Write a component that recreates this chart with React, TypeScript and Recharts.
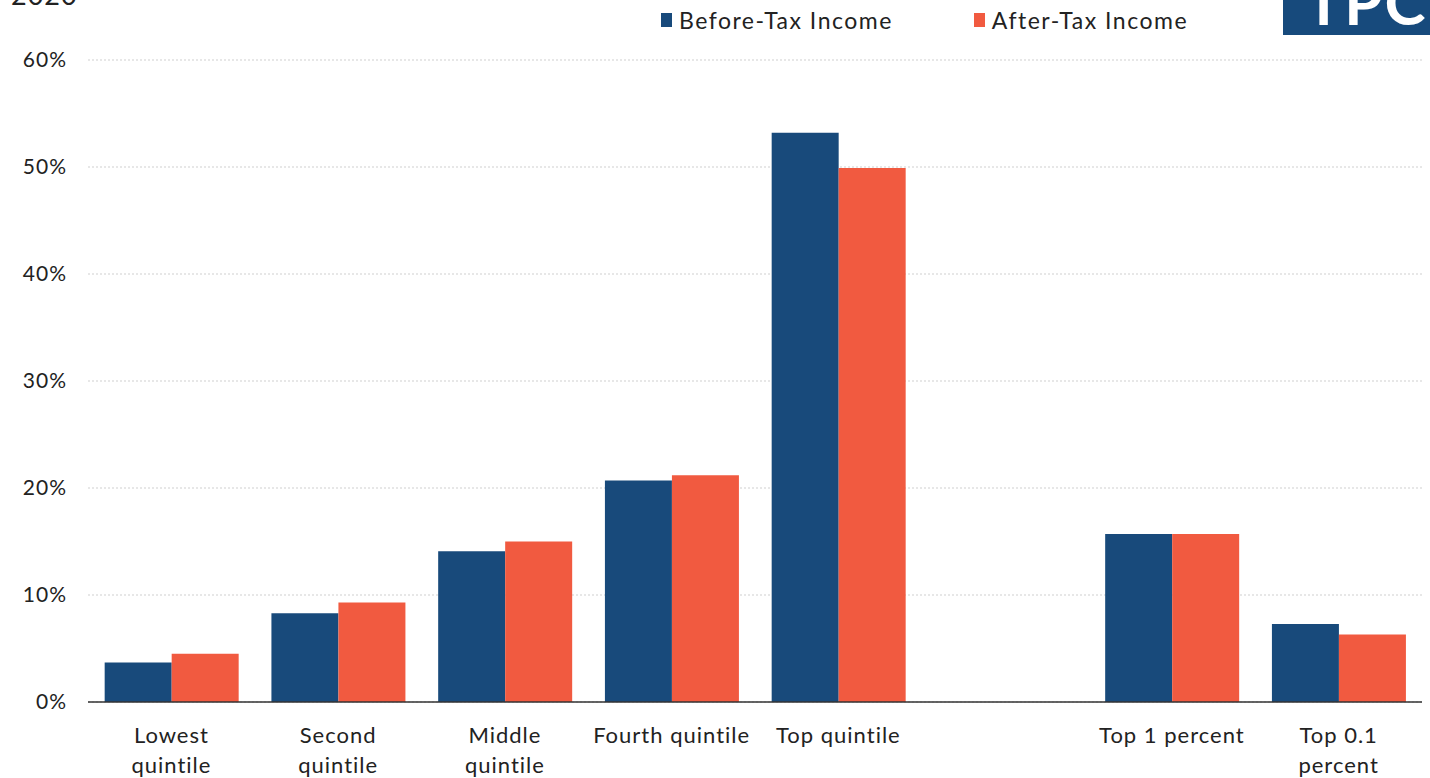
import React from "react";
import { BarChart, Bar, XAxis, YAxis, CartesianGrid } from "recharts";

const categories = [
  "Lowest\nquintile",
  "Second\nquintile",
  "Middle\nquintile",
  "Fourth quintile",
  "Top quintile",
  "",
  "Top 1 percent",
  "Top 0.1\npercent",
];
const beforeTax = [3.7, 8.3, 14.1, 20.7, 53.2, null, 15.7, 7.3];
const afterTax = [4.5, 9.3, 15.0, 21.2, 49.9, null, 15.7, 6.3];
const yTicks = [0, 10, 20, 30, 40, 50, 60];
const seriesNames = ["Before-Tax Income", "After-Tax Income"];

const COLORS = { before: "#184a7b", after: "#f15a40", text: "#222" };
const FONT = "Lato, 'Open Sans', sans-serif";

const data = categories.map((name, i) => ({ name, before: beforeTax[i], after: afterTax[i] }));

const XTick = (props: any) => {
  const { x, y, payload } = props;
  const lines = String(payload.value).split("\n");
  return (
    <text x={x} y={y + 41} textAnchor="middle" fill={COLORS.text} fontSize={22} fontFamily={FONT} letterSpacing={1}>
      {lines.map((l, i) => (
        <tspan key={i} x={x} dy={i === 0 ? 0 : 30}>{l}</tspan>
      ))}
    </text>
  );
};

const ChartLegend = () => (
  <div style={{ position: "absolute", left: 661, top: 6, display: "flex", gap: 81, fontFamily: FONT, fontSize: 23, letterSpacing: 1.5, color: COLORS.text }}>
    {[[seriesNames[0], COLORS.before], [seriesNames[1], COLORS.after]].map(([label, c]) => (
      <div key={label} style={{ display: "flex", alignItems: "center", gap: 7 }}>
        <span style={{ display: "inline-block", width: 11, height: 14, background: c }} />
        <span>{label}</span>
      </div>
    ))}
  </div>
);

export default function App() {
  return (
    <div style={{ position: "absolute", top: 0, left: 0, width: 1430, height: 778, overflow: "hidden", background: "#fff" }}>
      <div style={{ position: "absolute", left: 11, top: -22, fontFamily: FONT, fontSize: 27, color: COLORS.text, letterSpacing: 1 }}>2020</div>
      <div style={{ position: "absolute", left: 1283, top: 0, width: 147, height: 35, background: "#174a7c", overflow: "hidden" }}>
        <div style={{ position: "absolute", left: 22, top: -36, fontFamily: FONT, fontWeight: 700, fontSize: 62, color: "#fff", letterSpacing: 2 }}>TPC</div>
      </div>
      <ChartLegend />
      <BarChart width={1430} height={778} data={data} margin={{ top: 60, right: 8, left: 0, bottom: 0 }} barCategoryGap="10%" barGap={0}>
        <CartesianGrid vertical={false} stroke="#cfcfcf" strokeDasharray="2 2" />
        <YAxis
          domain={[0, 60]}
          ticks={yTicks}
          width={88}
          axisLine={false}
          tickLine={false}
          tickSize={0}
          tickMargin={21}
          tickFormatter={(v) => `${v}%`}
          tick={{ fill: COLORS.text, fontSize: 21, fontFamily: FONT, letterSpacing: 1 }}
        />
        <XAxis
          dataKey="name"
          height={76}
          interval={0}
          tickLine={false}
          tickSize={0}
          tickMargin={0}
          axisLine={{ stroke: "#333", strokeWidth: 1.5 }}
          tick={<XTick />}
        />
        <Bar dataKey="before" name={seriesNames[0]} fill={COLORS.before} isAnimationActive={false} />
        <Bar dataKey="after" name={seriesNames[1]} fill={COLORS.after} isAnimationActive={false} />
      </BarChart>
    </div>
  );
}
